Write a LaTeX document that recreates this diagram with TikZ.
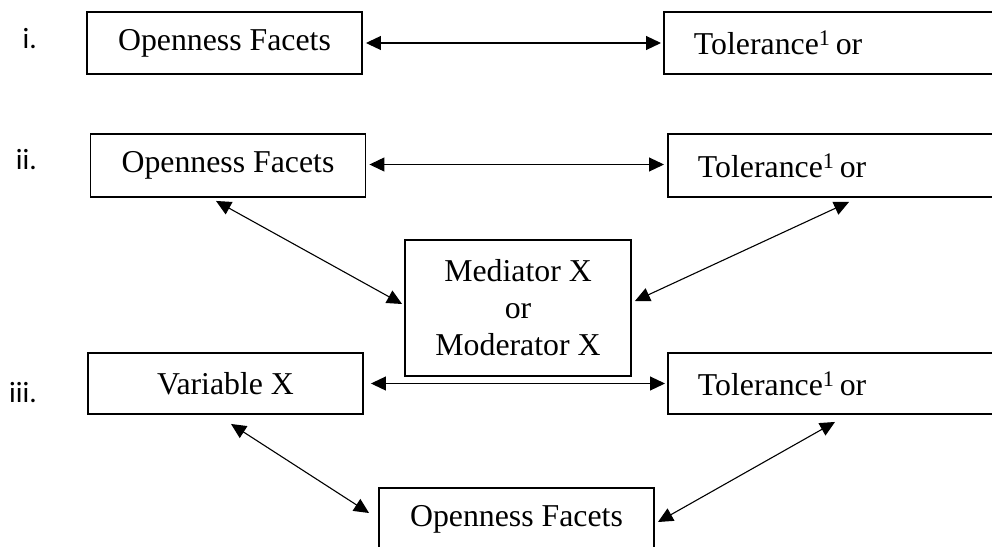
\documentclass[tikz,border=0pt]{standalone}
\usepackage{fontspec}
\setmainfont{Liberation Serif}
\newfontfamily\labelfont{Carlito}
\usetikzlibrary{arrows.meta}
\begin{document}
\begin{tikzpicture}[x=1pt,y=-1pt,
  box/.style={draw, line width=1.9pt, minimum height=62pt, inner sep=0pt,
    font=\fontsize{31.8}{37}\selectfont},
  leftbox/.style={box, minimum width=275pt},
  rightbox/.style={box, anchor=west, text width=330pt, align=left, inner xsep=30pt},
  link/.style={line width=1.1pt,
    {Triangle[length=15pt,width=14pt]}-{Triangle[length=15pt,width=14pt]}},
  rowlabel/.style={font=\labelfont\fontsize{29.3}{32}\selectfont, anchor=east, inner sep=0pt}]
\useasboundingbox (0,0) rectangle (992,546);
\clip (0,0) rectangle (992,546);

% row labels
\node[rowlabel] (li)   at (37,39)  {i.};
\node[rowlabel] (lii)  at (37,160) {ii.};
\node[rowlabel] (liii) at (37,393) {iii.};

% row i
\node[leftbox] (o1) at (224.5,43) {Openness Facets};
\node[rightbox] (t1) at (663,43) {Tolerance\textsuperscript{1}\,or};

% row ii
\node[leftbox, minimum height=63pt] (o2) at (228,165.5) {Openness Facets};
\node[rightbox, minimum height=63pt] (t2) at (667,165.5) {Tolerance\textsuperscript{1}\,or};
\node[box, minimum width=226pt, minimum height=136pt, align=center] (med) at (518,308)
  {Mediator X\\or\\Moderator X};

% row iii
\node[leftbox, minimum height=61pt] (v3) at (225.5,383.5) {Variable X};
\node[rightbox, minimum height=61pt] (t3) at (667,383.5) {Tolerance\textsuperscript{1}\,or};
\node[leftbox] (o3) at (516.5,519) {Openness Facets};

% connectors
\draw[link] ([xshift=3pt]o1.east) -- ([xshift=-2pt]t1.west);

\draw[link] ([shift={(3,-1)}]o2.east) -- ([shift={(-3,-1)}]t2.west);
\draw[link] ([shift={(-12,3)}]o2.south) -- ([shift={(-2,-4)}]med.west);
\draw[link] ([shift={(182,4)}]t2.south west) -- ([shift={(3,-7)}]med.east);

\draw[link] ([xshift=7pt]v3.east) -- ([xshift=-2pt]t3.west);
\draw[link] ([shift={(5.5,9)}]v3.south) -- ([shift={(-9,-6)}]o3.west);
\draw[link] ([shift={(168,7)}]t3.south west) -- ([shift={(3,3)}]o3.east);
\end{tikzpicture}
\end{document}
